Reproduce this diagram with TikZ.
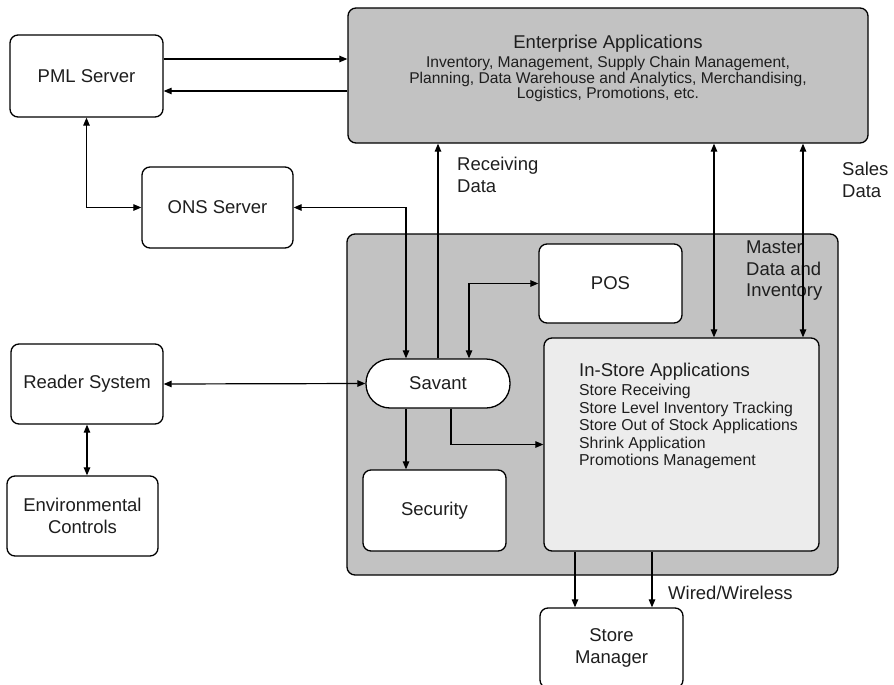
\documentclass[tikz,border=0pt]{standalone}
\usepackage{fontspec}
\setmainfont{Liberation Sans}
\usetikzlibrary{arrows.meta}
\definecolor{darkgray1}{HTML}{C2C2C2}
\definecolor{lightgray1}{HTML}{ECECEC}
\definecolor{txt}{HTML}{1E1E1E}
\newcommand{\fbig}{\fontsize{18.5}{21.5}\selectfont}
\newcommand{\fsub}{\fontsize{15.6}{15.6}\selectfont}
\newcommand{\fitem}{\fontsize{15.8}{17.5}\selectfont}
\begin{document}
\begin{tikzpicture}[x=1pt,y=-1pt,
  box/.style={draw, rounded corners=8pt, fill=white, line width=1.3pt, inner sep=0pt,
    align=center, font=\fbig, text=txt},
  lab/.style={align=left, inner sep=0pt, font=\fbig, text=txt},
  arr/.style={line width=1.2pt, -{Triangle[length=8pt,width=6.5pt]}},
  darr/.style={line width=1.2pt, {Triangle[length=8pt,width=6.5pt]}-{Triangle[length=8pt,width=6.5pt]}}]
\useasboundingbox (0,0) rectangle (894,685);
% big containers
\node[box, fill=darkgray1, minimum width=520pt, minimum height=135pt] (ent) at (608,75.5) {};
\node[text=txt, inner sep=0pt, font=\fbig] (entt) at (608,44) {Enterprise Applications};
\node[text=txt, inner sep=0pt, align=center, font=\fsub] (ents) at (608,79) {Inventory, Management, Supply Chain Management,\\Planning, Data Warehouse and Analytics, Merchandising,\\Logistics, Promotions, etc.};
\node[box, fill=darkgray1, minimum width=491pt, minimum height=341pt] (store) at (592.5,404.5) {};
% boxes
\node[box, minimum width=153pt, minimum height=82pt] (pml) at (86.5,76) {PML Server};
\node[box, minimum width=151pt, minimum height=81pt] (ons) at (217.5,207.5) {ONS Server};
\node[box, minimum width=143pt, minimum height=79pt] (pos) at (610.5,283.5) {POS};
\node[box, rounded corners=24pt, minimum width=144pt, minimum height=49pt] (savant) at (438,383.5) {Savant};
\node[box, fill=lightgray1, minimum width=275pt, minimum height=213pt] (instore) at (681.5,444.5) {};
\node[text=txt, inner sep=0pt, font=\fbig, anchor=west] (ist) at (579,372) {In-Store Applications};
\node[text=txt, inner sep=0pt, align=left, font=\fitem, anchor=north west] (isi) at (579,384) {Store Receiving\\Store Level Inventory Tracking\\Store Out of Stock Applications\\Shrink Application\\Promotions Management};
\node[box, minimum width=143pt, minimum height=81pt] (sec) at (434.5,510.5) {Security};
\node[box, minimum width=143pt, minimum height=80pt] (sm) at (611.5,648) {Store\\Manager};
\node[box, minimum width=152pt, minimum height=80pt] (reader) at (87,384) {Reader System};
\node[box, minimum width=151pt, minimum height=80pt] (env) at (82.5,516) {Environmental\\Controls};
% labels
\node[lab, anchor=north west] (recv) at (457,157) {Receiving\\Data};
\node[lab, anchor=north west] (sales) at (842,162) {Sales\\Data};
\node[lab, anchor=north west] (mdi) at (746,241) {Master\\Data and\\Inventory};
\node[lab, anchor=west] (wired) at (668,593) {Wired/Wireless};
% helper coordinates
\coordinate (y1) at (0,59);
\coordinate (y2) at (0,91);
\coordinate (xa) at (406,0);
\coordinate (xb) at (469,0);
\coordinate (xc) at (451,0);
\coordinate (xm1) at (714,0);
\coordinate (xm2) at (803,0);
\coordinate (xw1) at (575,0);
\coordinate (xw2) at (652,0);
% connectors
\draw[arr] (pml.east |- y1) -- (ent.west |- y1);
\draw[arr] (ent.west |- y2) -- (pml.east |- y2);
\draw[darr] (pml.south) -- (pml.south |- ons.west) -- (ons.west);
\draw[darr] (ons.east) -- (ons.east -| xa) -- (savant.north -| xa);
\draw[arr] (savant.north) -- (savant.north |- ent.south);
\draw[darr] (savant.north -| xb) |- (pos.west);
\draw[arr] (savant.south -| xa) -- (sec.north -| xa);
\draw[arr] (savant.south -| xc) |- (instore.west);
\draw[darr] (reader.east) -- (savant.west);
\draw[darr] (reader.south) -- (reader.south |- env.north);
\draw[darr] (ent.south -| xm1) -- (instore.north -| xm1);
\draw[darr] (ent.south -| xm2) -- (instore.north -| xm2);
\draw[arr] (instore.south -| xw1) -- (sm.north -| xw1);
\draw[arr] (instore.south -| xw2) -- (sm.north -| xw2);
\end{tikzpicture}
\end{document}
